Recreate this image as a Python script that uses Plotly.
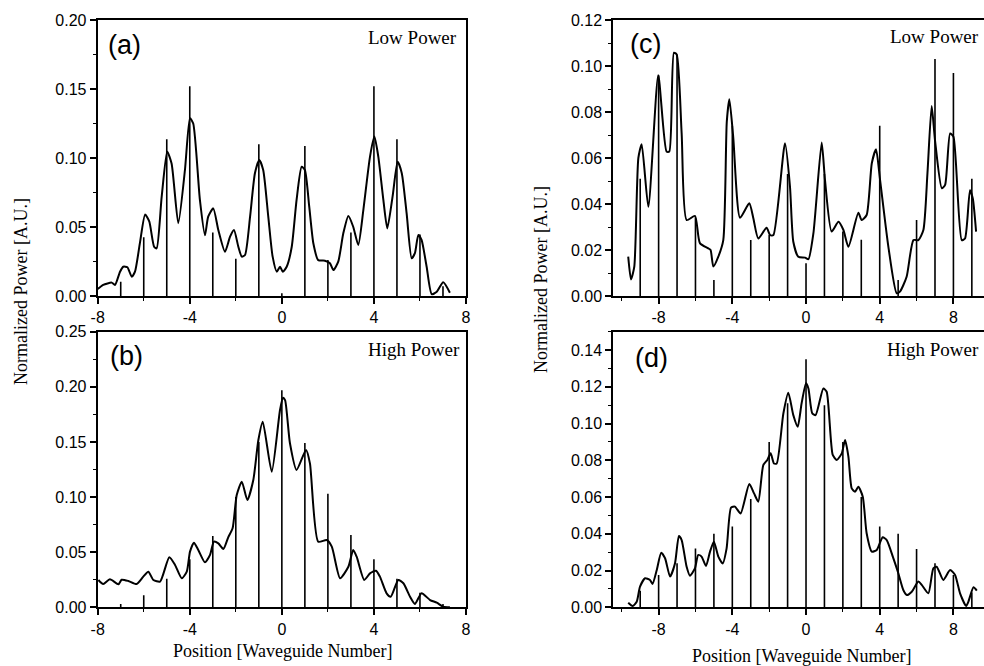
import plotly.graph_objects as go

W, H = 984, 666

# ---------------- data ----------------
# (a) low power, array 1
a_x = [-8.0, -7.76, -7.39, -7.25, -7.03, -6.89, -6.71, -6.52, -6.38, -6.16, -5.94, -5.76, -5.55, -5.44,
       -5.22, -4.98, -4.79, -4.5, -4.21, -3.99, -3.85, -3.56, -3.34, -3.2, -2.98, -2.76, -2.47, -2.25,
       -2.08, -1.89, -1.74, -1.6, -1.38, -1.17, -0.98, -0.81, -0.59, -0.4, -0.22, -0.08, 0.04, 0.21,
       0.43, 0.64, 0.86, 1.0, 1.19, 1.37, 1.58, 1.87, 2.09, 2.24, 2.45, 2.67, 2.89, 3.1, 3.32, 3.54,
       3.83, 4.02, 4.19, 4.41, 4.58, 4.81, 5.03, 5.21, 5.42, 5.64, 5.78, 5.93, 6.07, 6.29, 6.51, 6.73,
       7.01, 7.3]
a_y = [0.005, 0.008, 0.0097, 0.008, 0.0176, 0.0212, 0.0208, 0.014, 0.0176, 0.039, 0.059, 0.054, 0.0357, 0.0345,
       0.072, 0.1046, 0.096, 0.0527, 0.0913, 0.1288, 0.125, 0.0696, 0.044, 0.0575, 0.0635, 0.0478, 0.032, 0.043,
       0.0478, 0.0357, 0.0285, 0.0297, 0.0575, 0.0889, 0.0986, 0.0913, 0.0575, 0.0285, 0.0176, 0.0212, 0.0176, 0.0212,
       0.0357, 0.0696, 0.0937, 0.0913, 0.0647, 0.038, 0.026, 0.0256, 0.0237, 0.0188, 0.0249, 0.0454, 0.058, 0.0502, 0.037, 0.0623,
       0.101, 0.1155, 0.101, 0.0696, 0.049, 0.072, 0.0973, 0.089, 0.06, 0.0273, 0.031, 0.0442, 0.0406, 0.0212, 0.0014, 0.0031,
       0.0099, 0.0024]
a_sx = [-7, -6, -5, -4, -3, -2, -1, 0, 1, 2, 3, 4, 5, 6, 7]
a_sy = [0.0104, 0.0425, 0.1135, 0.152, 0.046, 0.027, 0.11, 0.002, 0.1087, 0.026, 0.046, 0.152, 0.1135, 0.0445, 0.007]

# (b) high power, array 1
b_x = [-7.97, -7.76, -7.47, -7.1, -6.96, -6.67, -6.31, -6.02, -5.8, -5.58, -5.29, -4.89, -4.64, -4.35, -4.13,
       -3.99, -3.82, -3.63, -3.34, -3.12, -2.95, -2.76, -2.54, -2.33, -2.14, -1.96, -1.74, -1.5, -1.24, -1.02,
       -0.83, -0.44, -0.08, 0.05, 0.14, 0.35, 0.64, 1.05, 1.22, 1.58, 1.95, 2.17, 2.53, 2.89, 3.1, 3.25, 3.58,
       3.83, 4.09, 4.26, 4.55, 4.73, 5.06, 5.28, 5.57, 5.78, 6.07, 6.44, 6.73, 7.01, 7.3]
b_y = [0.0248, 0.0211, 0.0254, 0.0209, 0.025, 0.0239, 0.0211, 0.0278, 0.0323, 0.0248, 0.0233, 0.0454, 0.0384, 0.0263, 0.0323,
       0.0505, 0.0586, 0.052, 0.0408, 0.0475, 0.0595, 0.058, 0.0529, 0.0635, 0.0717, 0.1019, 0.114, 0.0974, 0.1155, 0.1518,
       0.1684, 0.123, 0.179, 0.19, 0.188, 0.149, 0.1246, 0.1427, 0.1306, 0.0595, 0.061, 0.055, 0.0263, 0.0368, 0.052, 0.0459, 0.0248,
       0.0308, 0.0332, 0.0278, 0.0127, 0.0096, 0.0248, 0.0218, 0.0096, 0.003, 0.0127, 0.0066, 0.0042, 0.0005, 0.0]
b_sx = [-7, -6, -5, -4, -3, -2, -1, 0, 1, 2, 3, 4, 5, 6, 7]
b_sy = [0.003, 0.011, 0.026, 0.0435, 0.0647, 0.1, 0.15, 0.197, 0.149, 0.103, 0.0656, 0.0435, 0.026, 0.0133, 0.003]

# (c) low power, array 2
c_x = [-9.65, -9.5, -9.32, -9.1, -8.92, -8.56, -8.02, -7.57, -7.42, -7.17, -7.02, -6.75, -6.48, -6.03, -5.76,
       -5.3, -5.18, -5.03, -4.76, -4.49, -4.3, -4.16, -3.95, -3.58, -3.08, -2.86, -2.59, -2.14, -1.95, -1.77,
       -1.14, -0.87, -0.69, -0.42, -0.05, 0.13, 0.4, 0.85, 1.03, 1.39, 1.76, 2.03, 2.3, 2.84, 3.02, 3.29, 3.57,
       3.8, 4.02, 4.47, 4.92, 5.1, 5.46, 5.83, 6.1, 6.37, 6.59, 6.82, 7.0, 7.37, 7.55, 7.82, 8.0, 8.45, 8.63,
       8.9, 9.05, 9.23]
c_y = [0.0171, 0.0072, 0.0128, 0.06, 0.066, 0.0388, 0.096, 0.0628, 0.0628, 0.1058, 0.105, 0.0707, 0.033, 0.0348, 0.023,
       0.0207, 0.02, 0.0128, 0.0171, 0.0243, 0.0758, 0.0855, 0.069, 0.034, 0.0403, 0.0338, 0.025, 0.0297, 0.0265, 0.0265,
       0.0664, 0.0475, 0.0236, 0.0171, 0.0167, 0.016, 0.0272, 0.0667, 0.0504, 0.028, 0.0323, 0.0287, 0.0214, 0.0362, 0.033, 0.0352, 0.0577,
       0.0638, 0.0504, 0.0214, 0.0012, 0.0019, 0.0084, 0.0243, 0.0243, 0.0287, 0.0533, 0.0826, 0.0678, 0.0468, 0.0483, 0.0707, 0.0693, 0.0243, 0.025,
       0.046, 0.0425, 0.028]
c_sx = [-9, -8, -7, -6, -5, -4, -3, -2, -1, 0, 1, 2, 3, 4, 5, 6, 7, 8, 9]
c_sy = [0.051, 0.096, 0.105, 0.034, 0.007, 0.074, 0.0243, 0.0265, 0.053, 0.0142, 0.053, 0.028, 0.0245, 0.074, 0.007, 0.033, 0.103, 0.097, 0.051]

# (d) high power, array 2
d_x = [-9.65, -9.41, -9.19, -9.01, -8.74, -8.47, -8.33, -8.1, -7.86, -7.65, -7.38, -7.11, -6.9, -6.75, -6.48,
       -6.3, -6.03, -5.85, -5.67, -5.43, -5.21, -5.0, -4.76, -4.52, -4.31, -4.07, -3.86, -3.55, -3.08, -2.82,
       -2.59, -2.32, -2.1, -1.92, -1.74, -1.59, -1.23, -0.96, -0.69, -0.45, -0.24, 0.0, 0.13, 0.34, 0.52, 0.94,
       1.12, 1.45, 1.67, 1.94, 2.12, 2.3, 2.48, 2.66, 2.84, 3.08, 3.29, 3.57, 3.84, 4.16, 4.38, 4.71, 5.01, 5.28,
       5.47, 5.74, 6.1, 6.28, 6.64, 6.91, 7.09, 7.45, 7.82, 8.09, 8.36, 8.69, 8.81, 9.09, 9.27]
d_y = [0.0025, 0.0007, 0.003, 0.0112, 0.0158, 0.0149, 0.0127, 0.0203, 0.0297, 0.0267, 0.0167, 0.024, 0.0388, 0.0366, 0.0221,
       0.0172, 0.0212, 0.0285, 0.0276, 0.0225, 0.0303, 0.0357, 0.0276, 0.0239, 0.0321, 0.0542, 0.0548, 0.0511, 0.0671, 0.062,
       0.0575, 0.0774, 0.0802, 0.0838, 0.0783, 0.0783, 0.1055, 0.1168, 0.1046, 0.0983, 0.111, 0.1219, 0.1191, 0.1055, 0.1046, 0.1191,
       0.1173, 0.0829, 0.0802, 0.0838, 0.091, 0.082, 0.0647, 0.0629, 0.0656, 0.0602, 0.0403, 0.0303, 0.0312, 0.0381, 0.0366, 0.0276, 0.0185, 0.0094,
       0.0067, 0.0085, 0.014, 0.0122, 0.0076, 0.0212, 0.0221, 0.0149, 0.0203, 0.0176, 0.0076, 0.0007, 0.003, 0.0109, 0.0091]
d_sx = [-9, -8, -7, -6, -5, -4, -3, -2, -1, 0, 1, 2, 3, 4, 5, 6, 7, 8, 9]
d_sy = [0.009, 0.0176, 0.024, 0.032, 0.040, 0.044, 0.059, 0.090, 0.111, 0.135, 0.110, 0.090, 0.060, 0.044, 0.040, 0.0317, 0.024, 0.0176, 0.008]

x_tickvals = [-8, -4, 0, 4, 8]
x_ticktext = ["-8", "-4", "0", "4", "8"]

panel_labels = ["(a)", "(b)", "(c)", "(d)"]
power_labels = ["Low Power", "High Power", "Low Power", "High Power"]
y_title = "Normalized Power [A.U.]"
x_title = "Position [Waveguide Number]"

# ---------------- layout geometry (pixels) ----------------
def px(x):
    return x / W

def py(y):
    return 1 - y / H

panels = [
    dict(cx=a_x, cy=a_y, sx=a_sx, sy=a_sy, dom_x=(97.7, 466), dom_y=(20, 296),
         xr=[-8, 8], yr=[0, 0.20], dt=0.05, mdt=0.025, mirror_y=True),
    dict(cx=b_x, cy=b_y, sx=b_sx, sy=b_sy, dom_x=(97.7, 466), dom_y=(331.7, 607.3),
         xr=[-8, 8], yr=[0, 0.25], dt=0.05, mdt=0.025, mirror_y=True),
    dict(cx=c_x, cy=c_y, sx=c_sx, sy=c_sy, dom_x=(613.3, 984), dom_y=(20, 296),
         xr=[-10.46, 9.66], yr=[0, 0.12], dt=0.02, mdt=0.01, mirror_y=False),
    dict(cx=d_x, cy=d_y, sx=d_sx, sy=d_sy, dom_x=(613.3, 984), dom_y=(331.7, 607.3),
         xr=[-10.46, 9.66], yr=[0, 0.15], dt=0.02, mdt=0.01, mirror_y=False),
]

tick_font = dict(family="Liberation Sans, Arial", size=16, color="black")

fig = go.Figure()
layout = {}
for i, p in enumerate(panels):
    n = "" if i == 0 else str(i + 1)
    xa, ya = "x" + n, "y" + n
    # stick lines built from the stick arrays
    stx, sty = [], []
    for xv, yv in zip(p["sx"], p["sy"]):
        stx += [xv, xv, None]
        sty += [0, yv, None]
    fig.add_trace(go.Scatter(x=stx, y=sty, mode="lines", line=dict(color="black", width=1.6),
                             xaxis=xa, yaxis=ya, showlegend=False, hoverinfo="skip"))
    fig.add_trace(go.Scatter(x=p["cx"], y=p["cy"], mode="lines",
                             line=dict(color="black", width=2, shape="spline", smoothing=0.6),
                             xaxis=xa, yaxis=ya, showlegend=False))
    layout["xaxis" + n] = dict(
        domain=[px(p["dom_x"][0]), px(p["dom_x"][1])], anchor=ya, range=p["xr"],
        tickmode="array", tickvals=x_tickvals, ticktext=x_ticktext,
        ticks="outside", ticklen=6, tickwidth=1.5, tickcolor="black",
        minor=dict(dtick=2, tick0=0, ticks="outside", ticklen=3, tickwidth=1.2, tickcolor="black"),
        showline=True, linecolor="black", linewidth=2, mirror=True,
        showgrid=False, zeroline=False, automargin=False, tickfont=tick_font)
    layout["yaxis" + n] = dict(
        domain=[py(p["dom_y"][1]), py(p["dom_y"][0])], anchor=xa, range=p["yr"],
        tick0=0, dtick=p["dt"], tickformat=".2f", ticks="outside", ticklen=6, tickwidth=1.5, tickcolor="black",
        minor=dict(dtick=p["mdt"], tick0=0, ticks="outside", ticklen=3, tickwidth=1.2, tickcolor="black"),
        showline=True, linecolor="black", linewidth=2, mirror=p["mirror_y"],
        showgrid=False, zeroline=False, automargin=False, tickfont=tick_font)

ann = []
# panel letters
for lab, (cx, cy) in zip(panel_labels, [(124.5, 45), (126.5, 355.7), (645.5, 43.5), (651.5, 357.5)]):
    ann.append(dict(text=lab, x=px(cx), y=py(cy), xref="paper", yref="paper", showarrow=False,
                    xanchor="center", yanchor="middle",
                    font=dict(family="Liberation Sans, Arial", size=27, color="black")))
# power labels
for lab, (xx, yy) in zip(power_labels, [(459, 37), (462, 349), (981, 36), (981, 349)]):
    ann.append(dict(text=lab, x=px(xx), y=py(yy), xref="paper", yref="paper", showarrow=False,
                    xanchor="right", yanchor="middle",
                    font=dict(family="Liberation Serif, Times New Roman", size=19, color="black")))
# axis titles
for (xx, yy) in [(21, 292), (541, 280)]:
    ann.append(dict(text=y_title, x=px(xx), y=py(yy), xref="paper", yref="paper", showarrow=False,
                    textangle=-90, xanchor="center", yanchor="middle",
                    font=dict(family="Liberation Serif, Times New Roman", size=18, color="black")))
for (xx, yy) in [(282.5, 651), (801.7, 656)]:
    ann.append(dict(text=x_title, x=px(xx), y=py(yy), xref="paper", yref="paper", showarrow=False,
                    xanchor="center", yanchor="middle",
                    font=dict(family="Liberation Serif, Times New Roman", size=18, color="black")))

fig.update_layout(width=W, height=H, margin=dict(l=0, r=0, t=0, b=0),
                  paper_bgcolor="white", plot_bgcolor="white", annotations=ann, **layout)
fig.write_html("out.html")
